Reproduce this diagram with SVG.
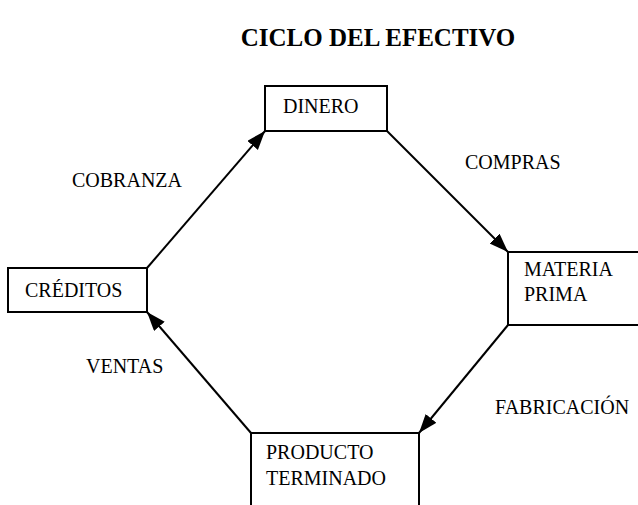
<svg xmlns="http://www.w3.org/2000/svg" width="638" height="505" viewBox="0 0 638 505">
<defs>
<marker id="ah" markerUnits="userSpaceOnUse" markerWidth="20" markerHeight="16" refX="19" refY="7" orient="auto">
<path d="M0,0 L19,7 L0,14 Z" fill="#000"/>
</marker>
<style>
.box{fill:#fff;stroke:#000;stroke-width:2}
.t{font-family:"Liberation Serif","Times New Roman",serif;font-size:20px;fill:#000}
.lbl{font-family:"Liberation Serif","Times New Roman",serif;font-size:20px;fill:#000}
.title{font-family:"Liberation Serif","Times New Roman",serif;font-size:25px;font-weight:bold;fill:#000}
.c{stroke:#000;stroke-width:2;fill:none;marker-end:url(#ah)}
</style>
</defs>
<rect width="638" height="505" fill="#fff"/>
<text class="title" x="378" y="46" text-anchor="middle">CICLO DEL EFECTIVO</text>
<g id="connectors">
<line class="c" x1="147" y1="268" x2="265" y2="131"/>
<line class="c" x1="387" y1="131" x2="508" y2="252"/>
<line class="c" x1="508" y1="325" x2="419" y2="433"/>
<line class="c" x1="251" y1="433" x2="147" y2="312"/>
</g>
<g id="labels">
<text class="lbl" x="72" y="187">COBRANZA</text>
<text class="lbl" x="465" y="169">COMPRAS</text>
<text class="lbl" x="86" y="373">VENTAS</text>
<text class="lbl" x="495" y="414">FABRICACIÓN</text>
</g>
<g id="dinero">
<rect class="box" x="265" y="86" width="122" height="45"/>
<text class="t" x="283" y="113">DINERO</text>
</g>
<g id="materia-prima">
<rect class="box" x="508" y="252" width="140" height="73"/>
<text class="t" x="524" y="276">MATERIA</text>
<text class="t" x="524" y="301">PRIMA</text>
</g>
<g id="creditos">
<rect class="box" x="8" y="268" width="139" height="44"/>
<text class="t" x="25" y="297">CRÉDITOS</text>
</g>
<g id="producto-terminado">
<rect class="box" x="251" y="433" width="168" height="80"/>
<text class="t" x="266" y="459">PRODUCTO</text>
<text class="t" x="266" y="485">TERMINADO</text>
</g>
</svg>
